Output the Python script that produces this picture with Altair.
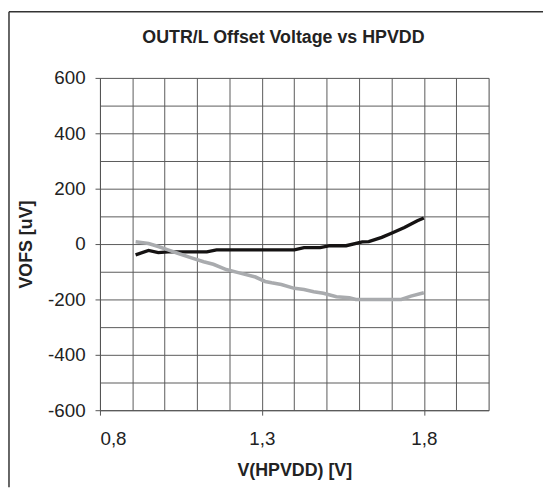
import altair as alt
import pandas as pd

# Data
black_x = [0.91, 0.95, 0.98, 1.01, 1.07, 1.13, 1.16, 1.40, 1.43, 1.48, 1.51, 1.56, 1.61, 1.63, 1.67, 1.70, 1.74, 1.78, 1.80]
black_y = [-39, -23, -31, -28, -28, -28, -21, -21, -13, -13, -6, -6, 8, 9, 24, 39, 60, 84, 94]

gray_x = [0.91, 0.95, 0.98, 1.01, 1.04, 1.08, 1.12, 1.15, 1.19, 1.23, 1.28, 1.31, 1.33, 1.36, 1.40, 1.43, 1.46, 1.49, 1.53, 1.57, 1.59, 1.73, 1.76, 1.80]
gray_y = [8, 2, -9, -21, -33, -49, -64, -73, -92, -104, -119, -135, -140, -146, -160, -164, -172, -178, -190, -194, -200, -200, -188, -176]

x_grid = [0.8, 0.9, 1.0, 1.1, 1.2, 1.3, 1.4, 1.5, 1.6, 1.7, 1.8, 1.9, 2.0]
x_ticks = [0.8, 1.3, 1.8]
x_labels = ["0,8", "1,3", "1,8"]
y_grid = [-600, -500, -400, -300, -200, -100, 0, 100, 200, 300, 400, 500, 600]
y_ticks = [-600, -400, -200, 0, 200, 400, 600]

title_text = "OUTR/L Offset Voltage vs HPVDD"
x_title = "V(HPVDD) [V]"
y_title = "VOFS [uV]"

W, H = 393, 336
FONT = "Liberation Sans"

black_df = pd.DataFrame({"x": black_x, "y": black_y})
gray_df = pd.DataFrame({"x": gray_x, "y": gray_y})

xs = alt.Scale(domain=[0.8, 2.0], nice=False, zero=False)
ys = alt.Scale(domain=[-600, 600], nice=False, zero=False)

grid_axis_x = alt.Axis(values=x_grid, grid=True, labels=False, ticks=False, domain=False,
                       title=None, gridColor="#5a5a5a", gridWidth=1, gridOpacity=1, orient="bottom")
grid_axis_y = alt.Axis(values=y_grid, grid=True, labels=False, ticks=False, domain=False,
                       title=None, gridColor="#5a5a5a", gridWidth=1, gridOpacity=1, orient="left")

label_expr = "datum.value == 0.8 ? '{0}' : datum.value == 1.3 ? '{1}' : '{2}'".format(*x_labels)
lab_axis_x = alt.Axis(values=x_ticks, grid=False, labelExpr=label_expr, title=x_title,
                      orient="bottom", tickSize=5, tickColor="#555", domainColor="#555",
                      labelFontSize=19, labelPadding=15, labelColor="#222", labelFont=FONT,
                      titleFontSize=18, titleFontWeight="bold", titlePadding=13, titleFont=FONT,
                      titleColor="#222")
lab_axis_y = alt.Axis(values=y_ticks, grid=False, title=y_title, orient="left",
                      labelExpr="'' + datum.value",
                      tickSize=5, tickColor="#555", domainColor="#555",
                      labelFontSize=19, labelPadding=10, labelColor="#222", labelFont=FONT,
                      titleFontSize=18, titleFontWeight="bold", titlePadding=12, titleFont=FONT,
                      titleColor="#222")

black = alt.Chart(black_df).mark_line(color="#151313", strokeWidth=3.4).encode(
    x=alt.X("x:Q", scale=xs, axis=grid_axis_x),
    y=alt.Y("y:Q", scale=ys, axis=grid_axis_y),
)
gray = alt.Chart(gray_df).mark_line(color="#a9abae", strokeWidth=3.6).encode(
    x=alt.X("x:Q", scale=xs, axis=lab_axis_x),
    y=alt.Y("y:Q", scale=ys, axis=lab_axis_y),
)

border_df = pd.DataFrame({"a": [0]})
top_border = alt.Chart(border_df).mark_rule(color="#333", strokeWidth=1.5).encode(
    x=alt.value(-92), x2=alt.value(448), y=alt.value(-67)
)
left_border = alt.Chart(border_df).mark_rule(color="#333", strokeWidth=1.5).encode(
    x=alt.value(-92), y=alt.value(-67), y2=alt.value(414)
)

chart = alt.layer(black, gray, top_border, left_border).resolve_axis(
    x="independent", y="independent"
).properties(
    width=W, height=H,
    title=alt.TitleParams(title_text, fontSize=18, fontWeight="bold", font=FONT,
                          color="#222", anchor="middle", offset=-36, dx=-11),
).configure_view(stroke="#9a9a9a", strokeWidth=1.5).configure(padding=0)

chart.save("out.html", embed_options={"renderer": "svg", "actions": False})
